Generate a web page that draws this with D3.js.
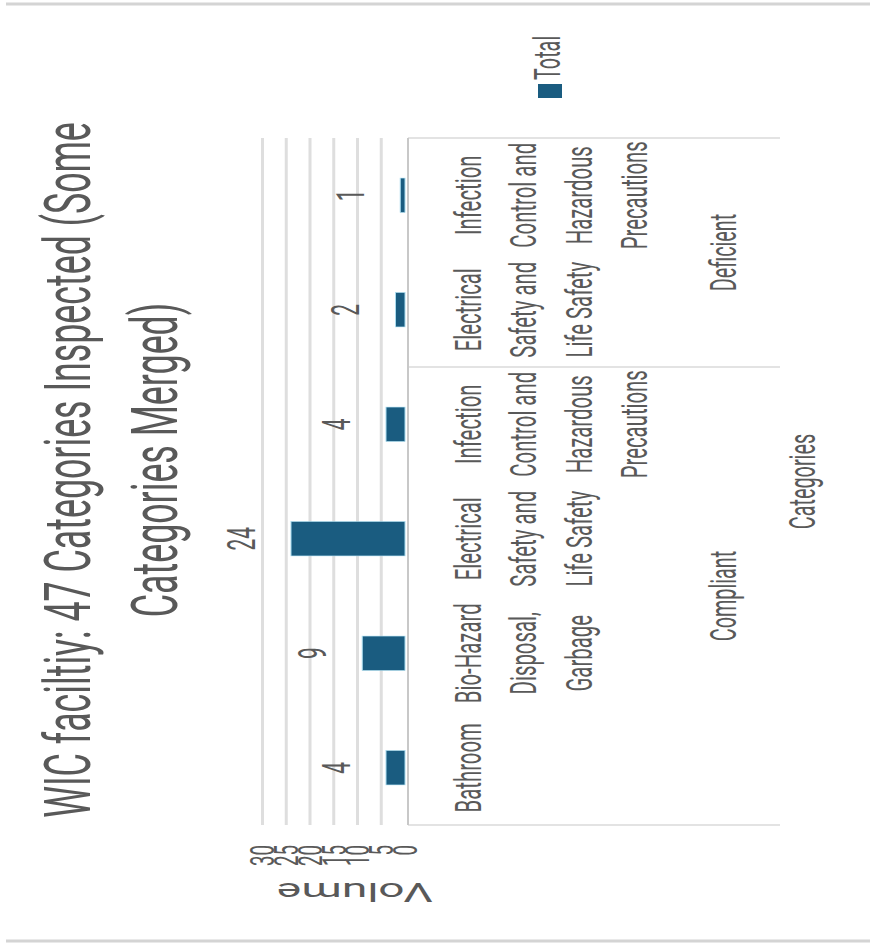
<!DOCTYPE html>
<html>
<head>
<meta charset="utf-8">
<script src="https://cdn.jsdelivr.net/npm/d3@7"></script>
<style>
  body { margin: 0; background: #fff; }
  text { font-family: Roboto, "Open Sans", sans-serif; fill: #595959; }
</style>
</head>
<body>
<div id="chart"></div>
<script>
/* Chart data. */
const groups = ["Compliant", "Compliant", "Compliant", "Compliant", "Deficient", "Deficient"];
const categoryLines = [
  ["Bathroom"],
  ["Bio-Hazard", "Disposal,", "Garbage"],
  ["Electrical", "Safety and", "Life Safety"],
  ["Infection", "Control and", "Hazardous", "Precautions"],
  ["Electrical", "Safety and", "Life Safety"],
  ["Infection", "Control and", "Hazardous", "Precautions"]
];
const totals = [4, 9, 24, 4, 2, 1];
const volumeTicks = [0, 5, 10, 15, 20, 25, 30];
const titleLines = ["WIC faciltiy: 47 Categories Inspected (Some", "Categories Merged)"];

/* The whole chart is turned on its side and squashed along its own x axis. */
const pageW = 870, pageH = 948;
const kx = 0.55;
const X = sy => (pageH - sy) / kx; // screen y -> chart x (unsquashed)

const svg = d3.select("#chart")
  .append("svg")
  .attr("width", pageW)
  .attr("height", pageH);

/* Page border lines. */
svg.append("line").attr("x1", 6).attr("x2", pageW).attr("y1", 4).attr("y2", 4)
  .style("stroke", "#d4d4d4").style("stroke-width", 3);
svg.append("line").attr("x1", 6).attr("x2", pageW).attr("y1", 941).attr("y2", 941)
  .style("stroke", "#d4d4d4").style("stroke-width", 3);

const g = svg.append("g")
  .attr("transform", `translate(0,${pageH}) rotate(-90) scale(${kx},1)`);

/* Scales. */
const x = d3.scaleBand()
  .domain(d3.range(totals.length))
  .range([X(825), X(138)])
  .paddingInner(0.7)
  .paddingOuter(0.35);

const y = d3.scaleLinear()
  .domain([0, 30])
  .range([405, 262.5]);

/* Gridlines. */
g.selectAll("line.grid")
  .data(volumeTicks.filter(d => d > 0))
  .enter()
  .append("line")
  .attr("class", "grid")
  .attr("x1", X(825))
  .attr("x2", X(138))
  .attr("y1", d => y(d))
  .attr("y2", d => y(d))
  .style("stroke", "#dedede")
  .style("stroke-width", 3);

/* Tick labels. */
g.selectAll("text.tick")
  .data(volumeTicks)
  .enter()
  .append("text")
  .attr("class", "tick")
  .attr("x", X(845))
  .attr("y", d => y(d))
  .attr("dy", "0.35em")
  .attr("text-anchor", "end")
  .style("font-size", "34px")
  .text(d => d);

/* Volume axis title. */
g.append("text")
  .attr("transform", `translate(${X(883)},355) rotate(-90)`)
  .attr("text-anchor", "middle")
  .style("font-size", "46px")
  .text("Volume");

/* Bars. */
g.selectAll("rect.bar")
  .data(totals)
  .enter()
  .append("rect")
  .attr("class", "bar")
  .attr("x", (d, i) => x(i))
  .attr("width", x.bandwidth())
  .attr("y", d => y(d))
  .attr("height", d => y(0) - y(d))
  .style("fill", "#1a5c80")
  .style("stroke", "#a9dcef")
  .style("stroke-width", 1);

/* Value labels. */
g.selectAll("text.value")
  .data(totals)
  .enter()
  .append("text")
  .attr("class", "value")
  .attr("x", (d, i) => x(i) + x.bandwidth() / 2)
  .attr("y", d => y(d) - 36)
  .attr("text-anchor", "middle")
  .style("font-size", "38px")
  .text(d => d);

/* Category axis frame. */
const step = x.step();
const rangeStart = x.range()[0];
const boxX = 408, boxEnd = 780;
g.append("line")
  .attr("x1", X(825)).attr("x2", X(138))
  .attr("y1", boxX).attr("y2", boxX)
  .style("stroke", "#c8c8c8").style("stroke-width", 2);
g.selectAll("line.sep")
  .data([0, 4, 6])
  .enter()
  .append("line")
  .attr("class", "sep")
  .attr("x1", d => rangeStart + d * step)
  .attr("x2", d => rangeStart + d * step)
  .attr("y1", boxX).attr("y2", boxEnd)
  .style("stroke", "#c8c8c8").style("stroke-width", 2);

/* Category labels. */
const lineGap = 55.3;
categoryLines.forEach((lines, i) => {
  g.selectAll(null)
    .data(lines)
    .enter()
    .append("text")
    .attr("x", x(i) + x.bandwidth() / 2)
    .attr("y", (d, j) => 481 + j * lineGap)
    .attr("text-anchor", "middle")
    .style("font-size", "37px")
    .text(d => d);
});

/* Group labels. */
const groupNames = Array.from(new Set(groups));
groupNames.forEach(name => {
  const idx = groups.map((gr, i) => gr === name ? i : -1).filter(i => i >= 0);
  const lo = rangeStart + d3.min(idx) * step;
  const hi = rangeStart + (d3.max(idx) + 1) * step;
  g.append("text")
    .attr("x", (lo + hi) / 2)
    .attr("y", 736)
    .attr("text-anchor", "middle")
    .style("font-size", "36px")
    .text(name);
});

/* Category axis title. */
g.append("text")
  .attr("x", (X(825) + X(138)) / 2)
  .attr("y", 815)
  .attr("text-anchor", "middle")
  .style("font-size", "36px")
  .text("Categories");

/* Chart title. */
g.selectAll("text.title")
  .data(titleLines)
  .enter()
  .append("text")
  .attr("class", "title")
  .attr("x", (d, i) => i === 0 ? X(470) : X(460))
  .attr("y", (d, i) => 90 + i * 87)
  .attr("text-anchor", "middle")
  .style("font-size", "65px")
  .text(d => d);

/* Legend. */
g.append("rect")
  .attr("x", X(98))
  .attr("width", X(84) - X(98))
  .attr("y", 538)
  .attr("height", 24)
  .style("fill", "#1a5c80");
g.append("text")
  .attr("x", X(80))
  .attr("y", 560)
  .style("font-size", "36px")
  .text("Total");
</script>
</body>
</html>
